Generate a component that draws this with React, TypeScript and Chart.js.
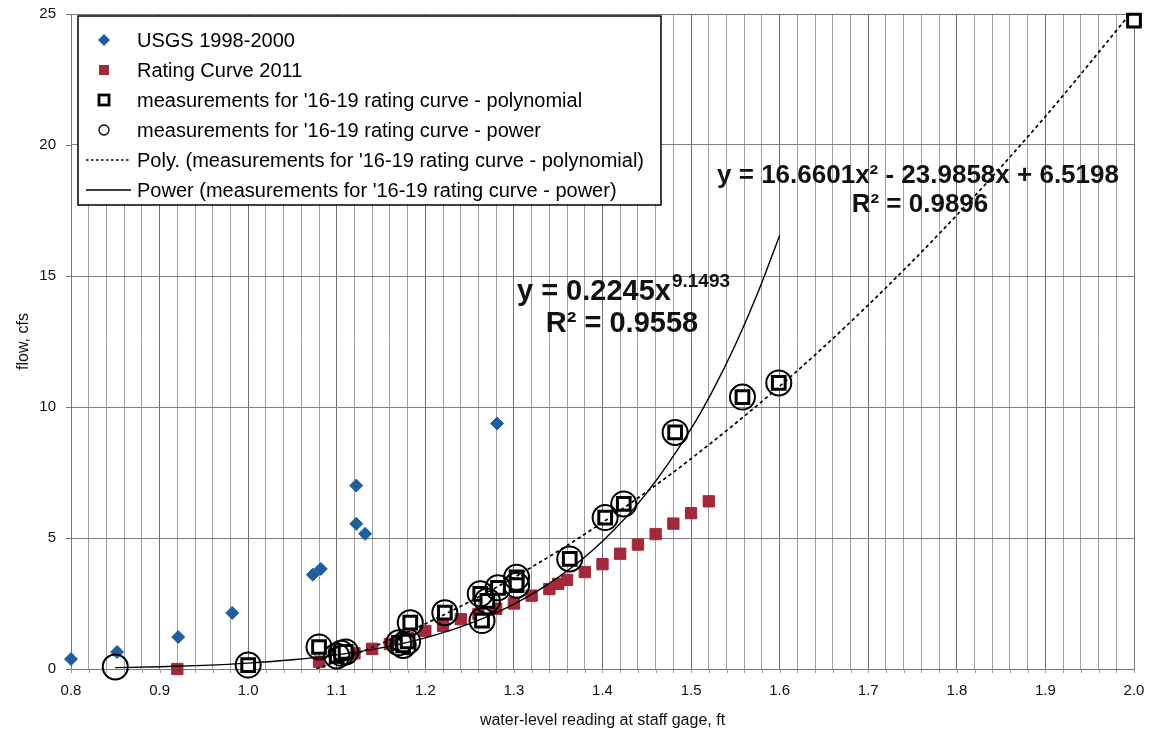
import React, { useEffect, useRef } from 'react';
import { Chart, registerables } from 'chart.js';

Chart.register(...registerables);

const FONT = '"Liberation Sans", Arial, sans-serif';

// USGS 1998-2000
const usgsX = [0.8, 0.852, 0.921, 0.982, 1.073, 1.082, 1.122, 1.122, 1.132, 1.281];
const usgsY = [0.38, 0.65, 1.22, 2.14, 3.6, 3.82, 7.0, 5.54, 5.16, 9.37];

// Rating Curve 2011
const ratingX = [0.92, 1.08, 1.1, 1.12, 1.14, 1.16, 1.18, 1.2, 1.22, 1.24, 1.26, 1.28, 1.3, 1.32, 1.34, 1.35, 1.36, 1.38, 1.4, 1.42, 1.44, 1.46, 1.48, 1.5, 1.52];
const ratingY = [0.0, 0.28, 0.45, 0.6, 0.77, 0.95, 1.2, 1.45, 1.65, 1.9, 2.1, 2.3, 2.5, 2.8, 3.05, 3.25, 3.4, 3.7, 4.0, 4.4, 4.75, 5.15, 5.55, 5.95, 6.4];

// measurements for '16-19 rating curve - polynomial
const polyX = [1.0, 1.08, 1.1, 1.105, 1.11, 1.17, 1.175, 1.18, 1.183, 1.222, 1.262, 1.264, 1.27, 1.282, 1.303, 1.303, 1.363, 1.403, 1.424, 1.482, 1.558, 1.599, 2.0];
const polyY = [0.15, 0.84, 0.5, 0.6, 0.65, 1.0, 0.9, 1.05, 1.77, 2.15, 2.87, 1.85, 2.6, 3.1, 3.5, 3.2, 4.2, 5.78, 6.3, 9.03, 10.38, 10.92, 24.75];

// measurements for '16-19 rating curve - power
const powerX = [0.85, 1.0, 1.08, 1.1, 1.105, 1.11, 1.17, 1.175, 1.18, 1.183, 1.222, 1.262, 1.264, 1.27, 1.282, 1.303, 1.303, 1.363, 1.403, 1.424, 1.482, 1.558, 1.599];
const powerY = [0.08, 0.15, 0.84, 0.5, 0.6, 0.65, 1.0, 0.9, 1.05, 1.77, 2.15, 2.87, 1.85, 2.6, 3.1, 3.5, 3.2, 4.2, 5.78, 6.3, 9.03, 10.38, 10.92];

// Poly. trendline
const polyFitX = [1.0, 1.05, 1.1, 1.15, 1.2, 1.25, 1.3, 1.35, 1.4, 1.45, 1.5, 1.6, 1.7, 1.8, 1.9, 2.0];
const polyFitY = [-0.806, -0.298, 0.294, 0.969, 1.727, 2.569, 3.494, 4.502, 5.594, 6.768, 8.026, 10.792, 13.892, 17.324, 21.09, 25.189];

// Power trendline
const powerFitX = [0.85, 0.9, 0.95, 1.0, 1.05, 1.1, 1.15, 1.2, 1.25, 1.3, 1.35, 1.4, 1.45, 1.5, 1.525, 1.55, 1.575, 1.6];
const powerFitY = [0.051, 0.086, 0.14, 0.2245, 0.351, 0.537, 0.806, 1.19, 1.729, 2.476, 3.497, 4.878, 6.724, 9.171, 10.666, 12.377, 14.33, 16.55];

const legendLabels = [
  'USGS 1998-2000',
  'Rating Curve 2011',
  "measurements for '16-19 rating curve - polynomial",
  "measurements for '16-19 rating curve - power",
  "Poly. (measurements for '16-19 rating curve - polynomial)",
  "Power (measurements for '16-19 rating curve - power)",
];

const BLUE = '#1f5f9e';
const RED = '#a3283a';

const pts = (xs: number[], ys: number[]) => xs.map((x, i) => ({ x, y: ys[i] }));
const isMajor = (v: number) => Math.abs(v * 10 - Math.round(v * 10)) < 1e-6;

const bgPlugin = {
  id: 'bg',
  beforeDraw(chart: any) {
    const { ctx } = chart;
    ctx.save();
    ctx.fillStyle = '#fff';
    ctx.fillRect(0, 0, chart.width, chart.height);
    ctx.restore();
  },
  beforeDatasetsDraw(chart: any) {
    const { ctx, chartArea: a } = chart;
    ctx.save();
    ctx.strokeStyle = '#777';
    ctx.lineWidth = 1;
    ctx.strokeRect(a.left + 0.5, a.top + 0.5, a.right - a.left, a.bottom - a.top);
    // small tick marks outside the plot area
    const ys = chart.scales.y;
    ys.ticks.forEach((t: any) => {
      const py = Math.round(ys.getPixelForValue(t.value)) + 0.5;
      ctx.beginPath();
      ctx.moveTo(a.left - 5, py);
      ctx.lineTo(a.left, py);
      ctx.stroke();
    });
    const xs = chart.scales.x;
    ctx.strokeStyle = '#999';
    xs.ticks.forEach((t: any) => {
      const px = Math.round(xs.getPixelForValue(t.value)) + 0.5;
      ctx.beginPath();
      ctx.moveTo(px, a.bottom);
      ctx.lineTo(px, a.bottom + 4);
      ctx.stroke();
    });
    ctx.restore();
  },
};

const overlayPlugin = {
  id: 'overlay',
  afterDraw(chart: any) {
    const { ctx } = chart;
    ctx.save();
    // legend box
    const L = 78, T = 16, R = 661, B = 205;
    ctx.fillStyle = '#fff';
    ctx.fillRect(L, T, R - L, B - T);
    ctx.strokeStyle = '#000';
    ctx.lineWidth = 1.5;
    ctx.strokeRect(L, T, R - L, B - T);
    ctx.font = `20px ${FONT}`;
    ctx.textBaseline = 'middle';
    ctx.textAlign = 'left';
    const tx = 137;
    const ys = [40, 70, 100, 130, 160, 190];
    const mx = 104;
    // diamond
    ctx.fillStyle = BLUE;
    ctx.beginPath();
    ctx.moveTo(mx, ys[0] - 6);
    ctx.lineTo(mx + 6, ys[0]);
    ctx.lineTo(mx, ys[0] + 6);
    ctx.lineTo(mx - 6, ys[0]);
    ctx.closePath();
    ctx.fill();
    // red square
    ctx.fillStyle = RED;
    ctx.fillRect(mx - 5, ys[1] - 5, 10, 10);
    // open square
    ctx.strokeStyle = '#000';
    ctx.lineWidth = 2.8;
    ctx.strokeRect(mx - 5, ys[2] - 5, 10, 10);
    // circle
    ctx.lineWidth = 1.3;
    ctx.beginPath();
    ctx.arc(mx, ys[3], 5, 0, Math.PI * 2);
    ctx.stroke();
    // dashed line
    ctx.lineWidth = 1.3;
    ctx.setLineDash([2.5, 2.5]);
    ctx.beginPath();
    ctx.moveTo(86, ys[4]);
    ctx.lineTo(131, ys[4]);
    ctx.stroke();
    ctx.setLineDash([]);
    ctx.beginPath();
    ctx.moveTo(86, ys[5]);
    ctx.lineTo(131, ys[5]);
    ctx.stroke();
    ctx.fillStyle = '#000';
    legendLabels.forEach((t, i) => ctx.fillText(t, tx, ys[i] + 1));

    // trendline equations
    ctx.fillStyle = '#111';
    ctx.textBaseline = 'alphabetic';
    // power equation
    const f1 = `bold 29px ${FONT}`;
    const f1s = `bold 19px ${FONT}`;
    ctx.font = f1;
    const mainTxt = 'y = 0.2245x';
    const w1 = ctx.measureText(mainTxt).width;
    ctx.font = f1s;
    const supTxt = '9.1493';
    const w1s = ctx.measureText(supTxt).width;
    const cx1 = 623;
    const x0 = cx1 - (w1 + w1s) / 2;
    ctx.font = f1;
    ctx.textAlign = 'left';
    ctx.fillText(mainTxt, x0, 300);
    ctx.font = f1s;
    ctx.fillText(supTxt, x0 + w1 + 1, 287);
    ctx.font = f1;
    ctx.textAlign = 'center';
    ctx.fillText('R\u00B2 = 0.9558', 622, 332);
    // poly equation
    ctx.font = `bold 26px ${FONT}`;
    ctx.fillText('y = 16.6601x\u00B2 - 23.9858x + 6.5198', 918, 183);
    ctx.fillText('R\u00B2 = 0.9896', 920, 212);
    ctx.restore();
  },
};

export default function App() {
  const ref = useRef<HTMLCanvasElement | null>(null);
  useEffect(() => {
    document.body.style.margin = '0';
    const canvas = ref.current;
    if (!canvas) return;
    const chart = new Chart(canvas, {
      type: 'scatter',
      data: {
        datasets: [
          {
            label: legendLabels[0],
            data: pts(usgsX, usgsY),
            pointStyle: 'rectRot',
            pointRadius: 6.5,
            backgroundColor: BLUE,
            borderColor: BLUE,
            borderWidth: 1,
            clip: false,
            order: 4,
          },
          {
            label: legendLabels[1],
            data: pts(ratingX, ratingY),
            pointStyle: 'rect',
            pointRadius: 8,
            backgroundColor: RED,
            borderColor: RED,
            borderWidth: 1,
            clip: false,
            order: 3,
          },
          {
            label: legendLabels[2],
            data: pts(polyX, polyY),
            pointStyle: 'rect',
            pointRadius: 9,
            backgroundColor: '#fff',
            borderColor: '#000',
            borderWidth: 3,
            clip: false,
            order: 2,
          },
          {
            label: legendLabels[3],
            data: pts(powerX, powerY),
            pointStyle: 'circle',
            pointRadius: 12.5,
            backgroundColor: 'rgba(0,0,0,0)',
            borderColor: '#000',
            borderWidth: 2,
            clip: false,
            order: 1,
          },
          {
            label: legendLabels[4],
            data: pts(polyFitX, polyFitY),
            showLine: true,
            pointRadius: 0,
            borderColor: '#000',
            borderWidth: 1.7,
            borderDash: [3.5, 3],
            cubicInterpolationMode: 'monotone',
            fill: false,
            order: 0,
          },
          {
            label: legendLabels[5],
            data: pts(powerFitX, powerFitY),
            showLine: true,
            pointRadius: 0,
            borderColor: '#000',
            borderWidth: 1.4,
            cubicInterpolationMode: 'monotone',
            fill: false,
            order: 0,
          },
        ],
      },
      options: {
        animation: false,
        responsive: false,
        devicePixelRatio: 1,
        events: [],
        layout: { autoPadding: false, padding: { top: 14, right: 15, left: 0, bottom: 0 } },
        plugins: {
          legend: { display: false },
          tooltip: { enabled: false },
        },
        scales: {
          x: {
            type: 'linear',
            min: 0.8,
            max: 2.0,
            afterFit: (s: any) => {
              s.height = 64;
            },
            ticks: {
              stepSize: 0.02,
              autoSkip: false,
              maxRotation: 0,
              minRotation: 0,
              padding: 2,
              color: '#111',
              font: { family: FONT, size: 15 },
              callback: (v: any) => (isMajor(Number(v)) ? Number(v).toFixed(1) : ''),
            },
            grid: {
              color: (c: any) => (c.tick && isMajor(c.tick.value) ? '#6f6f6f' : '#a0a0a0'),
              lineWidth: 1,
              tickLength: 11,
              tickColor: 'rgba(0,0,0,0)',
            },
            border: { display: true, color: '#777' },
            title: {
              display: true,
              text: 'water-level reading at staff gage, ft',
              color: '#111',
              font: { family: FONT, size: 16 },
              padding: { top: 4, bottom: 3 },
            },
          },
          y: {
            type: 'linear',
            min: 0,
            max: 25,
            afterFit: (s: any) => {
              s.width = 71;
            },
            ticks: {
              stepSize: 5,
              padding: 2,
              color: '#111',
              font: { family: FONT, size: 15 },
            },
            grid: { color: '#808080', lineWidth: 1, tickLength: 13, tickColor: 'rgba(0,0,0,0)' },
            border: { display: true, color: '#777' },
            title: {
              display: true,
              text: 'flow, cfs',
              color: '#111',
              font: { family: FONT, size: 16 },
              padding: { top: 14, bottom: 0 },
            },
          },
        },
      },
      plugins: [bgPlugin, overlayPlugin],
    } as any);
    return () => chart.destroy();
  }, []);
  return (
    <canvas
      ref={ref}
      width={1149}
      height={733}
      style={{ display: 'block', width: 1149, height: 733 }}
    />
  );
}
